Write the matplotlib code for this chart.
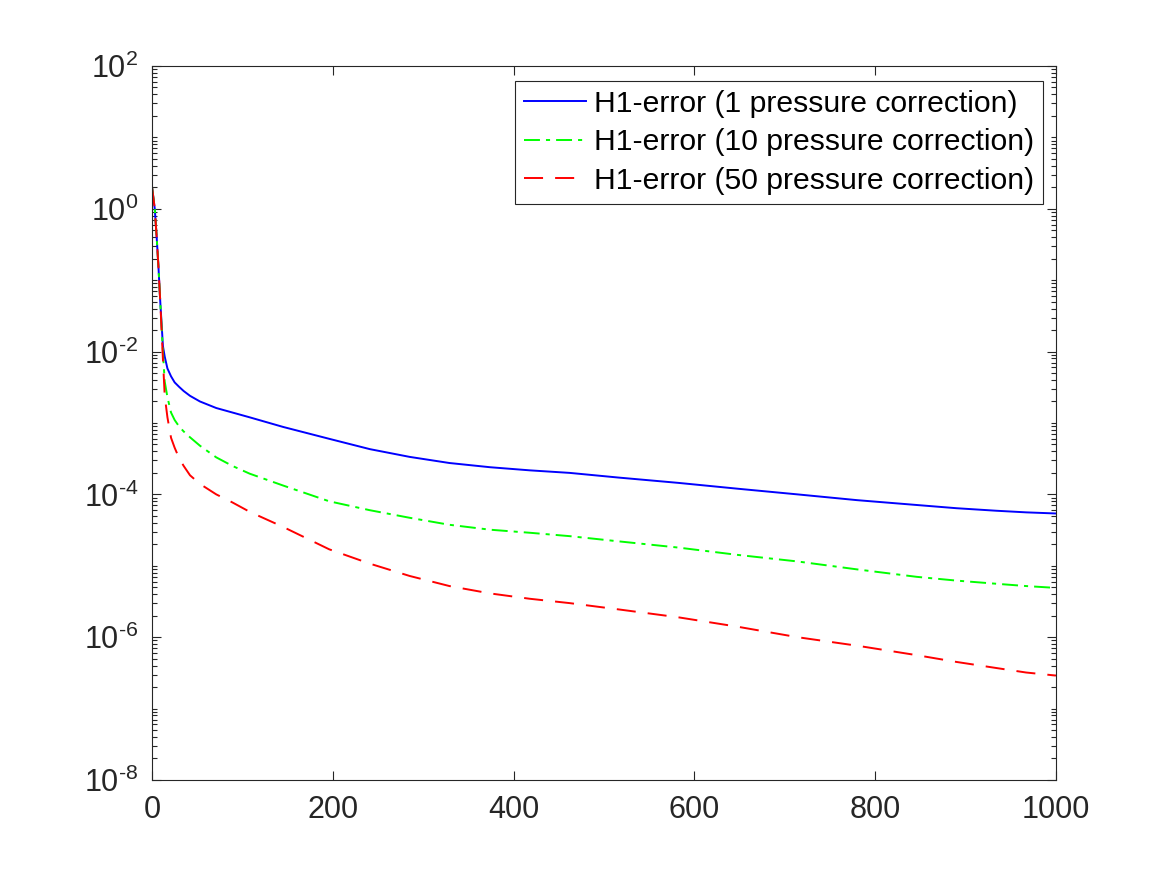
import numpy as np
import matplotlib
matplotlib.use("Agg")
import matplotlib.pyplot as plt
from matplotlib.ticker import LogLocator, FixedLocator, FixedFormatter, NullFormatter

# font settings (Helvetica-like)
plt.rcParams['font.family'] = ['Liberation Sans', 'DejaVu Sans']
plt.rcParams['mathtext.fontset'] = 'custom'
plt.rcParams['mathtext.rm'] = 'Liberation Sans'
plt.rcParams['mathtext.it'] = 'Liberation Sans:italic'
plt.rcParams['mathtext.bf'] = 'Liberation Sans:bold'

# iteration numbers
iters = [0, 3, 5, 7, 9, 12, 14, 17, 21, 25, 30, 35, 42, 53, 71, 89, 108, 145, 196,
         241, 285, 329, 374, 418, 462, 516, 582, 648, 714, 780, 846, 890, 934, 967, 1000]

# H1 errors for each number of pressure corrections
err_1 = [2.0, 1.0, 0.42, 0.16, 0.052, 0.012, 8.5e-3, 5.8e-3, 4.5e-3, 3.7e-3, 3.2e-3,
         2.8e-3, 2.4e-3, 2.0e-3, 1.62e-3, 1.4e-3, 1.2e-3, 8.8e-4, 6.0e-4,
         4.3e-4, 3.35e-4, 2.75e-4, 2.4e-4, 2.17e-4, 2.0e-4, 1.72e-4, 1.45e-4, 1.2e-4,
         1.0e-4, 8.3e-5, 7.1e-5, 6.4e-5, 5.9e-5, 5.6e-5, 5.4e-5]
err_10 = [2.0, 1.0, 0.42, 0.16, 0.052, 0.010, 3.8e-3, 2.3e-3, 1.4e-3, 1.1e-3, 8.9e-4,
          7.6e-4, 6.3e-4, 4.8e-4, 3.3e-4, 2.5e-4, 1.95e-4, 1.33e-4, 8.0e-5,
          6.0e-5, 4.7e-5, 3.75e-5, 3.2e-5, 2.9e-5, 2.6e-5, 2.2e-5, 1.8e-5, 1.42e-5,
          1.15e-5, 8.9e-6, 7.0e-6, 6.2e-6, 5.6e-6, 5.2e-6, 4.9e-6]
err_50 = [2.0, 1.0, 0.42, 0.16, 0.052, 0.008, 2.4e-3, 1.2e-3, 6.2e-4, 4.5e-4, 3.2e-4,
          2.5e-4, 1.85e-4, 1.4e-4, 1.0e-4, 7.7e-5, 5.7e-5, 3.5e-5, 1.7e-5,
          1.07e-5, 7.2e-6, 5.2e-6, 4.1e-6, 3.45e-6, 3.0e-6, 2.45e-6, 1.9e-6, 1.4e-6,
          1.0e-6, 7.6e-7, 5.6e-7, 4.5e-7, 3.7e-7, 3.2e-7, 2.9e-7]

labels = ['H1-error (1 pressure correction)',
          'H1-error (10 pressure correction)',
          'H1-error (50 pressure correction)']

# y tick positions and labels (MATLAB style, short hyphen in the exponent)
ytick_vals = [1e-8, 1e-6, 1e-4, 1e-2, 1e0, 1e2]
ytick_labels = ['$10^{\u2010' + '8}$', '$10^{\u2010' + '6}$', '$10^{\u2010' + '4}$',
                '$10^{\u2010' + '2}$', '$10^{0}$', '$10^{2}$']
xtick_vals = [0, 200, 400, 600, 800, 1000]

axcol = '#262626'

fig = plt.figure(figsize=(11.67, 8.75), dpi=100)
ax = fig.add_axes([0.1303, 0.1086, 0.7745, 0.816])

lw = 1.4
ax.semilogy(iters, err_1, color=(0, 0, 1), lw=lw, label=labels[0])
ax.semilogy(iters, err_10, color=(0, 1, 0), lw=lw, linestyle=(0, (8.2, 3.1, 2.1, 3.1)),
            label=labels[1])
ax.semilogy(iters, err_50, color=(1, 0, 0), lw=lw, linestyle=(0, (9.8, 6.2)),
            label=labels[2])

ax.set_xlim(0, 1000)
ax.set_ylim(1e-8, 1e2)
ax.set_xticks(xtick_vals)

# major ticks every two decades, minor ticks at every 1..9 x 10^k
ax.yaxis.set_major_locator(FixedLocator(ytick_vals))
ax.yaxis.set_major_formatter(FixedFormatter(ytick_labels))
ax.yaxis.set_minor_locator(LogLocator(base=10, subs=np.arange(1, 10), numticks=50))
ax.yaxis.set_minor_formatter(NullFormatter())

# MATLAB-like box with inward ticks on all sides
for sp in ax.spines.values():
    sp.set_color(axcol)
    sp.set_linewidth(0.8)
ax.tick_params(which='both', direction='in', top=True, right=True, colors=axcol,
               labelsize=22, width=0.8)
ax.tick_params(which='major', length=6.5)
ax.tick_params(which='minor', length=3.4)
ax.tick_params(axis='x', pad=11)
ax.tick_params(axis='y', pad=10)

leg = ax.legend(loc='upper right', bbox_to_anchor=(0.9856, 0.979), fontsize=21.7,
                fancybox=False, framealpha=1, edgecolor=axcol, handlelength=2.06,
                handletextpad=0.25, labelspacing=0.34, borderpad=0.3, borderaxespad=0)
leg.get_frame().set_linewidth(0.8)

fig.savefig('out.png', dpi=100)
